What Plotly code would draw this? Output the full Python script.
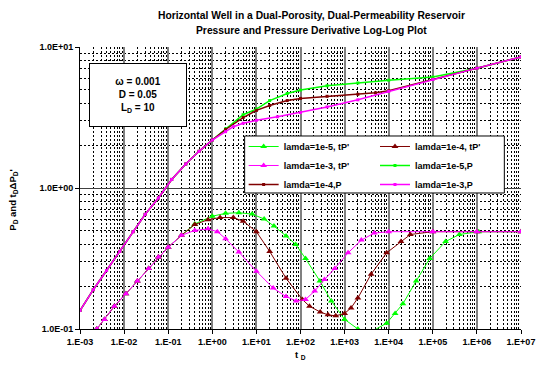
import plotly.graph_objects as go

# ---------------- data ----------------
# Pressure curves P_D
t_p3 = [0.001, 0.002, 0.004, 0.008, 0.016, 0.03, 0.06, 0.12, 0.25, 0.5, 1.0,
        2.0, 3.0, 5.0, 10, 30, 100, 400, 2000, 1e4, 1e5, 1e6, 1e7]
p_p3 = [0.135, 0.19, 0.26, 0.355, 0.49, 0.65, 0.85, 1.15, 1.48, 1.82, 2.19,
        2.51, 2.72, 2.88, 3.02, 3.20, 3.43, 3.76, 4.22, 4.84, 5.89, 7.08, 8.51]

t_p5 = [0.001, 0.002, 0.004, 0.008, 0.016, 0.03, 0.06, 0.12, 0.25, 0.5, 1.0,
        2.0, 5.0, 10, 20, 50, 100, 400, 2000, 1e4, 1e5, 1e6, 1e7]
p_p5 = [0.135, 0.19, 0.26, 0.355, 0.49, 0.65, 0.85, 1.15, 1.48, 1.82, 2.19,
        2.63, 3.31, 3.63, 4.17, 4.68, 4.95, 5.31, 5.56, 5.82, 6.12, 7.08, 8.51]

t_p4 = [0.001, 0.002, 0.004, 0.008, 0.016, 0.03, 0.06, 0.12, 0.25, 0.5, 1.0,
        2.0, 5.0, 10, 20, 50, 100, 400, 2000, 5000, 1e4, 1e5, 1e6, 1e7]
p_p4 = [0.135, 0.19, 0.26, 0.355, 0.49, 0.65, 0.85, 1.15, 1.48, 1.82, 2.19,
        2.60, 3.16, 3.55, 3.85, 4.17, 4.32, 4.47, 4.62, 4.73, 4.90, 5.89, 7.08, 8.51]

# Derivative curves t_D * dP_D'
t_d5 = [0.0024, 0.0036, 0.006, 0.011, 0.02, 0.036, 0.06, 0.1, 0.2, 0.4, 1.0,
        2.0, 4.0, 8.0, 15, 25, 47, 78, 130, 275, 500, 1000, 2000, 4000,
        9000, 14000, 21000, 42000, 85000, 195000, 400000, 1.1e6, 1e7]
d_d5 = [0.100, 0.117, 0.145, 0.178, 0.219, 0.269, 0.324, 0.380, 0.462, 0.556, 0.631,
        0.661, 0.668, 0.653, 0.603, 0.537, 0.457, 0.398, 0.316, 0.219, 0.158, 0.117, 0.100, 0.0955,
        0.110, 0.129, 0.151, 0.219, 0.316, 0.417, 0.468, 0.490, 0.490]

t_d4 = [0.0024, 0.0036, 0.006, 0.011, 0.02, 0.036, 0.06, 0.1, 0.2, 0.4, 0.8,
        1.5, 3.0, 5.0, 10, 20, 47, 110, 160, 280, 420, 630, 1000, 1400, 2000,
        4000, 9000, 19000, 31000, 1e5, 1e6, 1e7]
d_d4 = [0.100, 0.117, 0.145, 0.178, 0.219, 0.269, 0.324, 0.380, 0.462, 0.550, 0.596,
        0.617, 0.617, 0.582, 0.490, 0.355, 0.229, 0.162, 0.145, 0.132, 0.126, 0.124, 0.129, 0.141, 0.166,
        0.245, 0.347, 0.417, 0.468, 0.490, 0.490, 0.490]

t_d3 = [0.0024, 0.0036, 0.006, 0.011, 0.02, 0.036, 0.06, 0.1, 0.2, 0.4, 0.8,
        1.3, 2.0, 4.0, 10, 24, 47, 80, 130, 210, 350, 600, 1200, 2400, 4700,
        1e4, 1e5, 1e6, 1e7]
d_d3 = [0.100, 0.117, 0.145, 0.178, 0.219, 0.269, 0.324, 0.380, 0.462, 0.500, 0.513,
        0.490, 0.437, 0.351, 0.257, 0.195, 0.170, 0.158, 0.162, 0.186, 0.224, 0.269, 0.347, 0.427, 0.479,
        0.490, 0.490, 0.490, 0.490]

x_tickvals = [1e-3, 1e-2, 1e-1, 1e0, 1e1, 1e2, 1e3, 1e4, 1e5, 1e6, 1e7]
x_ticktext = ["1.E-03", "1.E-02", "1.E-01", "1.E+00", "1.E+01", "1.E+02",
              "1.E+03", "1.E+04", "1.E+05", "1.E+06", "1.E+07"]
y_tickvals = [0.1, 1, 10]
y_ticktext = ["1.0E-01", "1.0E+00", "1.0E+01"]

GREEN = "#00FF00"
DRED = "#800000"
MAG = "#FF00FF"
FONT = "Liberation Sans, Arial, sans-serif"

fig = go.Figure()


def deriv(name, t, d, col, leg):
    fig.add_trace(go.Scatter(
        x=t, y=d, name=name, mode="lines+markers", legend=leg,
        line=dict(color=col, width=1),
        marker=dict(symbol="triangle-up", size=6, color=col)))


def press(name, t, p, col, leg):
    fig.add_trace(go.Scatter(
        x=t, y=p, name=name, mode="lines+markers", legend=leg,
        line=dict(color=col, width=1.5),
        marker=dict(symbol="square", size=3, color=col)))


# left legend column: items 1,3,5 ; right legend column: items 2,4,6
deriv("lamda=1e-5, tP'", t_d5, d_d5, GREEN, "legend")
deriv("lamda=1e-4, tP'", t_d4, d_d4, DRED, "legend2")
deriv("lamda=1e-3, tP'", t_d3, d_d3, MAG, "legend")
press("lamda=1e-5,P", t_p5, p_p5, GREEN, "legend2")
press("lamda=1e-4,P", t_p4, p_p4, DRED, "legend")
press("lamda=1e-3,P", t_p3, p_p3, MAG, "legend2")

minor_common = dict(dtick="D1", showgrid=True, gridcolor="black",
                    griddash="2px,2px", gridwidth=1.3, ticks="")

fig.update_xaxes(
    type="log", range=[-3, 7], tickvals=x_tickvals, ticktext=x_ticktext,
    showgrid=True, gridcolor="#808080", gridwidth=2,
    showline=True, linecolor="black", linewidth=1,
    ticks="outside", ticklen=4, tickcolor="black",
    tickfont=dict(family=FONT, size=9, color="black", weight="bold"),
    minor=minor_common, zeroline=False)
fig.update_yaxes(
    type="log", range=[-1, 1], tickvals=y_tickvals, ticktext=y_ticktext,
    showgrid=True, gridcolor="#404040", gridwidth=1,
    showline=True, linecolor="black", linewidth=1,
    ticks="outside", ticklen=4, tickcolor="black",
    tickfont=dict(family=FONT, size=9, color="black", weight="bold"),
    minor=minor_common, zeroline=False)

leg_common = dict(orientation="v", yanchor="top", xanchor="left",
                  bgcolor="rgba(0,0,0,0)", borderwidth=0, tracegroupgap=0,
                  font=dict(family=FONT, size=9, color="black", weight="bold"))

fig.update_layout(
    width=547, height=369,
    margin=dict(l=80, r=17, t=47, b=40),
    paper_bgcolor="white", plot_bgcolor="white",
    font=dict(family=FONT, size=9, color="black"),
    showlegend=True,
    legend=dict(x=0.3711, y=0.6986, **leg_common),
    legend2=dict(x=0.6689, y=0.6986, **leg_common),
    shapes=[
        dict(type="rect", xref="paper", yref="paper",
             x0=0.3733, x1=0.9622, y0=0.4823, y1=0.6844,
             fillcolor="white", line=dict(color="black", width=1),
             layer="above"),
    ],
    annotations=[
        dict(text="<b>Horizontal Well in a Dual-Porosity, Dual-Permeability Reservoir</b>",
             xref="paper", yref="paper", x=0.524, y=1.110, showarrow=False,
             xanchor="center", yanchor="middle",
             font=dict(family=FONT, size=10.3, color="black")),
        dict(text="<b>Pressure and Pressure Derivative Log-Log Plot</b>",
             xref="paper", yref="paper", x=0.524, y=1.057, showarrow=False,
             xanchor="center", yanchor="middle",
             font=dict(family=FONT, size=10.3, color="black")),
        dict(text="<b>\u03c9 = 0.001<br>D = 0.05<br>L<sub>D</sub> = 10</b>",
             xref="paper", yref="paper", x=0.131, y=0.83, showarrow=False,
             xanchor="center", yanchor="middle", align="center",
             width=94, height=60, borderpad=1,
             bgcolor="white", bordercolor="black", borderwidth=1,
             font=dict(family=FONT, size=10, color="black")),
        dict(text="<b>t <sub>D</sub></b>",
             xref="paper", yref="paper", x=0.5, y=-0.092, showarrow=False,
             xanchor="center", yanchor="middle",
             font=dict(family=FONT, size=9.5, color="black")),
        dict(text="<b>P<sub>D</sub> and t<sub>D</sub>\u0394P<sub>D</sub>'</b>",
             xref="paper", yref="paper", x=-0.151, y=0.46, showarrow=False,
             xanchor="center", yanchor="middle", textangle=-90,
             font=dict(family=FONT, size=9.5, color="black")),
    ],
)

fig.write_html("out.html")
